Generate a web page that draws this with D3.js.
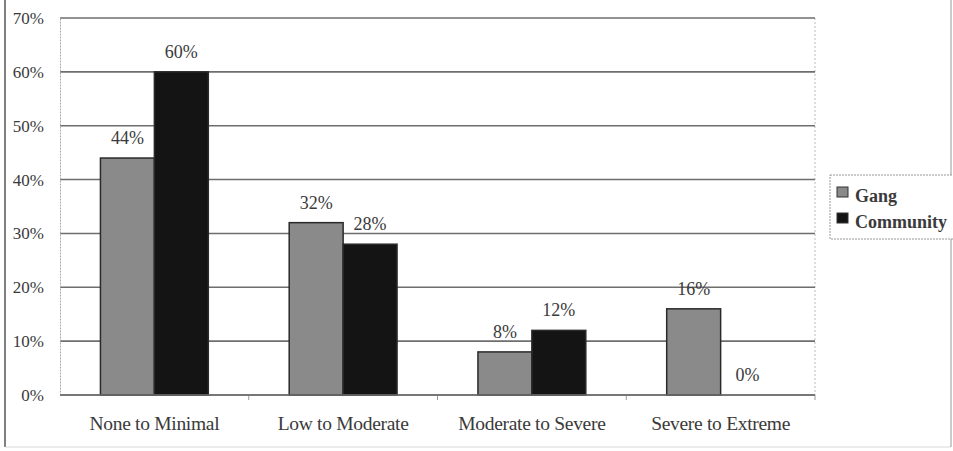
<!DOCTYPE html>
<html>
<head>
<meta charset="utf-8">
<script src="https://cdn.jsdelivr.net/npm/d3@7"></script>
<style>
  html, body { margin: 0; padding: 0; background: #fff; }
  svg { display: block; }
  text { font-family: "Liberation Serif", "Times New Roman", serif; fill: #3a3a3a; }
</style>
</head>
<body>
<svg id="chart" width="953" height="451"></svg>
<script>
// Severity categories and the share of each group in them
const categories = ["None to Minimal", "Low to Moderate", "Moderate to Severe", "Severe to Extreme"];
const seriesNames = ["Gang", "Community"];
const gangValues = [44, 32, 8, 16];
const communityValues = [60, 28, 12, 0];
const yTicks = [0, 10, 20, 30, 40, 50, 60, 70];
const seriesColors = ["#8a8a8a", "#141414"];

const svg = d3.select("#chart");
const plot = { left: 60, right: 815, top: 18, bottom: 395 };

// outer frame
svg.append("line").attr("x1", 5).attr("x2", 5).attr("y1", 0).attr("y2", 447)
  .attr("stroke", "#555").attr("stroke-width", 1.5);
svg.append("line").attr("x1", 5).attr("x2", 951).attr("y1", 447).attr("y2", 447)
  .attr("stroke", "#d8d8d8").attr("stroke-width", 1);
svg.append("line").attr("x1", 951).attr("x2", 951).attr("y1", 0).attr("y2", 447)
  .attr("stroke", "#999").attr("stroke-width", 1);

const x0 = d3.scaleBand().domain(categories).range([plot.left, plot.right]).paddingInner(0).paddingOuter(0);
const bandW = x0.bandwidth();
const barW = bandW / 3.5;
const x1 = d3.scaleBand().domain(seriesNames)
  .range([bandW / 2 - barW, bandW / 2 + barW]).padding(0);
const y = d3.scaleLinear().domain([0, 70]).range([plot.bottom, plot.top]);

// plot area right edge
svg.append("line").attr("x1", plot.right).attr("x2", plot.right)
  .attr("y1", plot.top).attr("y2", plot.bottom)
  .attr("stroke", "#bbb").attr("stroke-width", 1).attr("stroke-dasharray", "2,2");

// gridlines
svg.append("g").selectAll("line").data(yTicks).join("line")
  .attr("x1", plot.left).attr("x2", plot.right)
  .attr("y1", d => y(d)).attr("y2", d => y(d))
  .attr("stroke", "#6e6e6e").attr("stroke-width", 1.6);

// y axis
const yAxis = svg.append("g").attr("transform", `translate(${plot.left},0)`)
  .call(d3.axisLeft(y).tickValues(yTicks).tickSize(0).tickPadding(16).tickFormat(d => d + "%"));
yAxis.select(".domain").attr("stroke", "#aaa").attr("stroke-width", 1).attr("stroke-dasharray", "2,1");
yAxis.selectAll("text").attr("font-size", 17).attr("font-family", "Liberation Serif, serif").attr("fill", "#444");

// x axis
const xAxis = svg.append("g").attr("transform", `translate(0,${plot.bottom})`)
  .call(d3.axisBottom(x0).tickSize(0).tickPadding(21));
xAxis.select(".domain").remove();
xAxis.selectAll("text").attr("font-size", 19.5).attr("font-family", "Liberation Serif, serif")
  .attr("fill", "#333").attr("letter-spacing", "-0.3px");
svg.append("g").selectAll("line").data(categories).join("line")
  .attr("x1", (d, i) => plot.left + (i + 1) * bandW).attr("x2", (d, i) => plot.left + (i + 1) * bandW)
  .attr("y1", plot.bottom).attr("y2", plot.bottom + 5)
  .attr("stroke", "#999").attr("stroke-width", 1);

// bars
const rows = categories.map((c, i) => ({ cat: c, values: [gangValues[i], communityValues[i]] }));
const groups = svg.append("g").selectAll("g").data(rows).join("g")
  .attr("transform", d => `translate(${x0(d.cat)},0)`);

groups.selectAll("rect").data(d => d.values.map((v, j) => ({ name: seriesNames[j], v, j }))).join("rect")
  .filter(d => d.v > 0)
  .attr("x", d => x1(d.name))
  .attr("y", d => y(d.v))
  .attr("width", x1.bandwidth())
  .attr("height", d => y(0) - y(d.v))
  .attr("fill", d => seriesColors[d.j])
  .attr("stroke", "#2a2a2a").attr("stroke-width", 1.5);

groups.selectAll("text.val").data(d => d.values.map((v, j) => ({ name: seriesNames[j], v, j }))).join("text")
  .attr("class", "val")
  .attr("x", d => x1(d.name) + x1.bandwidth() / 2)
  .attr("y", d => y(d.v) - 14)
  .attr("text-anchor", "middle")
  .attr("font-size", 18)
  .attr("fill", "#444")
  .text(d => d.v + "%");

// baseline over the bars
svg.append("line").attr("x1", plot.left).attr("x2", plot.right)
  .attr("y1", y(0)).attr("y2", y(0)).attr("stroke", "#6e6e6e").attr("stroke-width", 1.6);

// legend
const lg = svg.append("g").attr("transform", "translate(830,175)");
lg.append("rect").attr("x", 0).attr("y", 0).attr("width", 130).attr("height", 64)
  .attr("fill", "#fff").attr("stroke", "#999").attr("stroke-width", 1).attr("stroke-dasharray", "2,1");
seriesNames.forEach((n, i) => {
  lg.append("rect").attr("x", 7).attr("y", 12 + i * 26).attr("width", 11).attr("height", 10)
    .attr("fill", seriesColors[i]).attr("stroke", "#333").attr("stroke-width", 1);
  lg.append("text").attr("x", 25).attr("y", 27 + i * 26)
    .attr("font-size", 18).attr("font-weight", "bold").attr("fill", "#333").text(n);
});
</script>
</body>
</html>
